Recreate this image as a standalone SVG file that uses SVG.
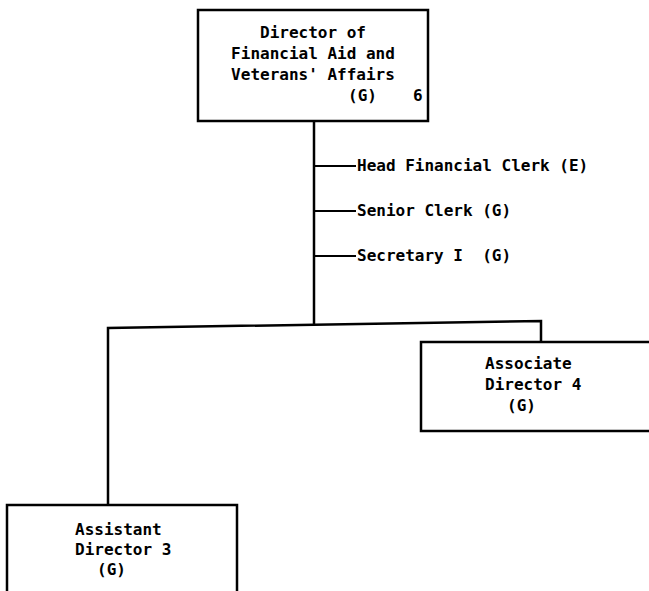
<svg xmlns="http://www.w3.org/2000/svg" width="649" height="591" viewBox="0 0 649 591">
<style>
.box{fill:#fff;stroke:#000;stroke-width:2.5}
.ln{stroke:#000;stroke-width:2.5;fill:none}
.tk{stroke:#000;stroke-width:2;fill:none}
text{font-family:"DejaVu Sans Mono","Liberation Mono",monospace;font-weight:bold;font-size:16px;fill:#000;white-space:pre}
</style>
<rect width="649" height="591" fill="#fff"/>
<g id="connectors">
<line class="ln" x1="314" y1="121" x2="314" y2="324"/>
<line class="tk" x1="314" y1="166" x2="356" y2="166"/>
<line class="tk" x1="314" y1="211" x2="356" y2="211"/>
<line class="tk" x1="314" y1="256" x2="356" y2="256"/>
<polyline class="ln" points="108,505 108,328 541,321 541,342"/>
</g>
<g id="director">
<rect class="box" x="198" y="10" width="230" height="111"/>
<text x="313" y="38" text-anchor="middle">Director of</text>
<text x="313" y="59" text-anchor="middle">Financial Aid and</text>
<text x="313" y="80" text-anchor="middle">Veterans' Affairs</text>
<text x="348" y="101">(G)</text>
<text x="413" y="101">6</text>
</g>
<g id="head-clerk"><text x="357" y="171">Head Financial Clerk (E)</text></g>
<g id="senior-clerk"><text x="357" y="216">Senior Clerk (G)</text></g>
<g id="secretary"><text x="357" y="261" xml:space="preserve">Secretary I  (G)</text></g>
<g id="associate">
<rect class="box" x="421" y="342" width="240" height="89"/>
<text x="485" y="369">Associate</text>
<text x="485" y="390">Director 4</text>
<text x="507" y="411">(G)</text>
</g>
<g id="assistant">
<rect class="box" x="7" y="505" width="230" height="100"/>
<text x="75" y="535">Assistant</text>
<text x="75" y="555">Director 3</text>
<text x="97" y="575">(G)</text>
</g>
</svg>
